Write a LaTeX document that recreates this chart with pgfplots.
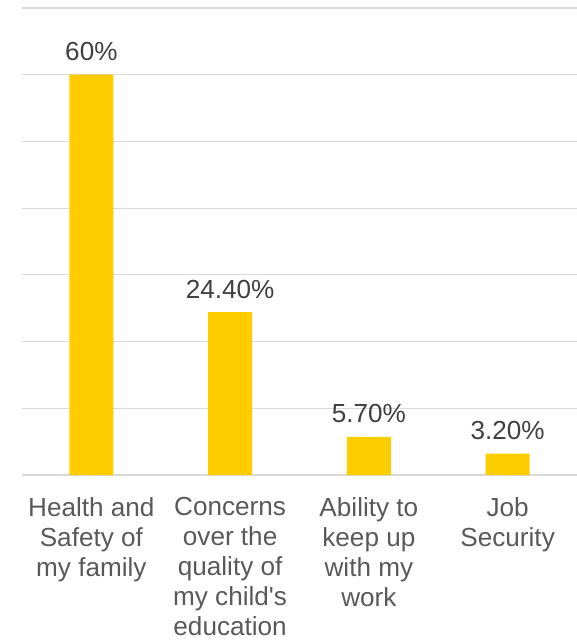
\documentclass[border=0pt]{standalone}
\usepackage{pgfplots}
\pgfplotsset{compat=1.18}
\usepackage{fontspec}
\setmainfont{Liberation Sans}
\definecolor{barc}{HTML}{FFCC00}
\definecolor{gridc}{HTML}{D9D9D9}
\definecolor{tickc}{HTML}{595959}
\definecolor{labc}{HTML}{404040}
\begin{document}
\begin{tikzpicture}
\begin{axis}[
  scale only axis,
  width=416.25pt, height=350.25pt,
  xmin=-0.5, xmax=3.5, ymin=0, ymax=70,
  ytick={0,10,...,70}, yticklabels={},
  ymajorgrids, grid style={gridc, line width=0.8pt},
  axis line style={draw=none},
  major tick length=0pt,
  xtick={0,1,2,3},
  xticklabels={Health and\\Safety of\\my family, Concerns\\over the\\quality of\\my child\textquotesingle s\\education, Ability to\\keep up\\with my\\work, Job\\Security},
  xticklabel style={font=\fontsize{19.6}{22.5}\selectfont, align=center, text=tickc, anchor=north, inner sep=0pt, yshift=-16.5pt},
  ybar, bar width=33pt,
  nodes near coords,
  point meta=explicit symbolic,
  every node near coord/.append style={font=\fontsize{19.6}{22.5}\selectfont, text=labc, anchor=base, inner sep=0pt, yshift=10.5pt},
]
\addplot[fill=barc, draw=none] coordinates {(0,60) [60\%] (1,24.4) [24.40\%] (2,5.7) [5.70\%] (3,3.2) [3.20\%]};
\end{axis}
\pgfresetboundingbox
\path[use as bounding box] ([shift={(-16.5pt,-123.75pt)}]current axis.south west) rectangle ++(432.75pt,480pt);
\end{tikzpicture}
\end{document}
